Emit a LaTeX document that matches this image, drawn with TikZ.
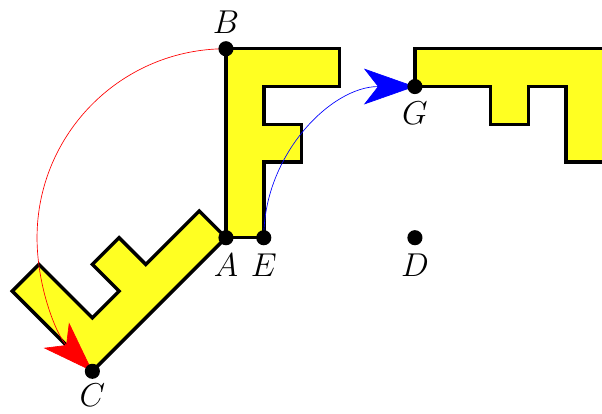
\documentclass[tikz,border=0pt]{standalone}
\usetikzlibrary{arrows.meta,calc}
\definecolor{fyellow}{RGB}{255,255,34}
\tikzset{
  fshape/.style={fill=fyellow, draw=black, line width=2.6pt, line join=miter},
  dot/.style={circle, fill=black, inner sep=0pt, minimum size=0.4cm},
  lbl/.style={font=\fontsize{24}{29}\selectfont, inner sep=0pt},
  rotarc/.style={line width=0.5pt},
}
\newcommand{\Fpath}{(0,0) -- (0,5) -- (3,5) -- (3,4) -- (1,4) -- (1,3) -- (2,3) -- (2,2) -- (1,2) -- (1,0) -- cycle}
\begin{document}
\begin{tikzpicture}
\useasboundingbox (-5.98,-4.64) rectangle (9.95,6.29);
\clip (-5.98,-4.64) rectangle (9.95,6.29);
\coordinate (A) at (0,0);
\coordinate (B) at (0,5);
\coordinate (E) at (1,0);
\coordinate (D) at (5,0);
\coordinate (G) at (5,4);
\coordinate (C) at (225:5);
% shapes
\draw[fshape] \Fpath;
\begin{scope}[rotate around={135:(A)}]
  \draw[fshape] \Fpath;
\end{scope}
\begin{scope}[rotate around={-90:(D)}]
  \draw[fshape] \Fpath;
\end{scope}
% rotation arcs
\draw[rotarc, red, -{Stealth[length=13.5mm,width=9.5mm,inset=3.7mm]}] (B) arc[start angle=90, end angle=225, radius=5];
\draw[rotarc, blue, -{Stealth[length=13.5mm,width=9.5mm,inset=3.7mm]}] (E) arc[start angle=180, end angle=90, radius=4];
% points
\foreach \p in {A,B,C,D,E,G} { \node[dot] (d\p) at (\p) {}; }
% labels
\node[lbl] (lB) at ($(B)+(0,0.69)$) {$B$};
\node[lbl] (lA) at ($(A)+(0,-0.72)$) {$A$};
\node[lbl] (lE) at ($(E)+(0,-0.72)$) {$E$};
\node[lbl] (lD) at ($(D)+(0,-0.72)$) {$D$};
\node[lbl] (lG) at ($(G)+(0,-0.70)$) {$G$};
\node[lbl] (lC) at ($(C)+(0,-0.62)$) {$C$};
\end{tikzpicture}
\end{document}
